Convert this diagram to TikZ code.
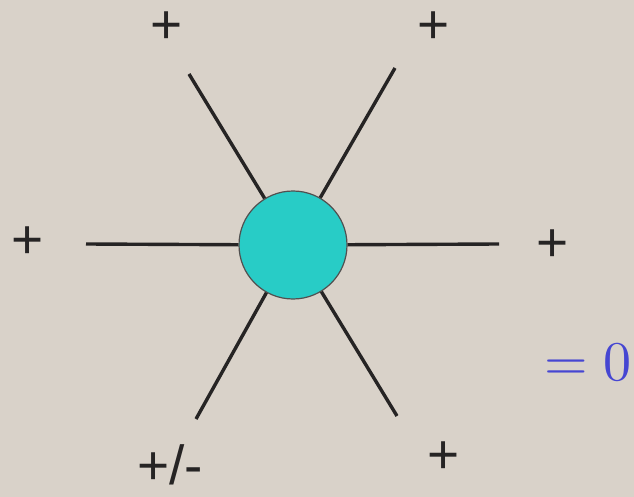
\documentclass[tikz,border=0pt]{standalone}
\usepackage{fontspec}
\setmainfont{Liberation Sans}
\definecolor{bgc}{RGB}{217,210,201}
\definecolor{turq}{RGB}{40,204,198}
\definecolor{linec}{RGB}{38,36,36}
\definecolor{zblue}{RGB}{70,70,210}
\begin{document}
\begin{tikzpicture}[x=1pt,y=-1pt,
  leg/.style={line width=3.4pt,draw=linec},
  sign/.style={inner sep=0pt,font=\fontsize{55}{60}\selectfont,text=linec},
  blob/.style={circle,draw=linec!80,line width=1.2pt,fill=turq,minimum size=108pt,inner sep=0pt}]
\fill[bgc] (0,0) rectangle (634,497);
\useasboundingbox (0,0) rectangle (634,497);
\node[blob] (c) at (293,245) {};
\coordinate (ul) at (189,74);
\coordinate (ur) at (395,68);
\coordinate (l) at (86,244);
\coordinate (r) at (499,244);
\coordinate (ll) at (196,419);
\coordinate (lr) at (397,416);
\foreach \p in {ul,ur,l,r,ll,lr}{\draw[leg] (\p) -- (c);}
\node[sign] (s1) at (167,28) {+};
\node[sign] (s2) at (434,28) {+};
\node[sign] (s3) at (28,243) {+};
\node[sign] (s4) at (553,246) {+};
\node[sign] (s5) at (170,465) {+/-};
\node[sign] (s6) at (444,458) {+};
\node[inner sep=0pt,text=zblue] (z) at (588,362) {\scalebox{5.6}{$=0$}};
\end{tikzpicture}
\end{document}
